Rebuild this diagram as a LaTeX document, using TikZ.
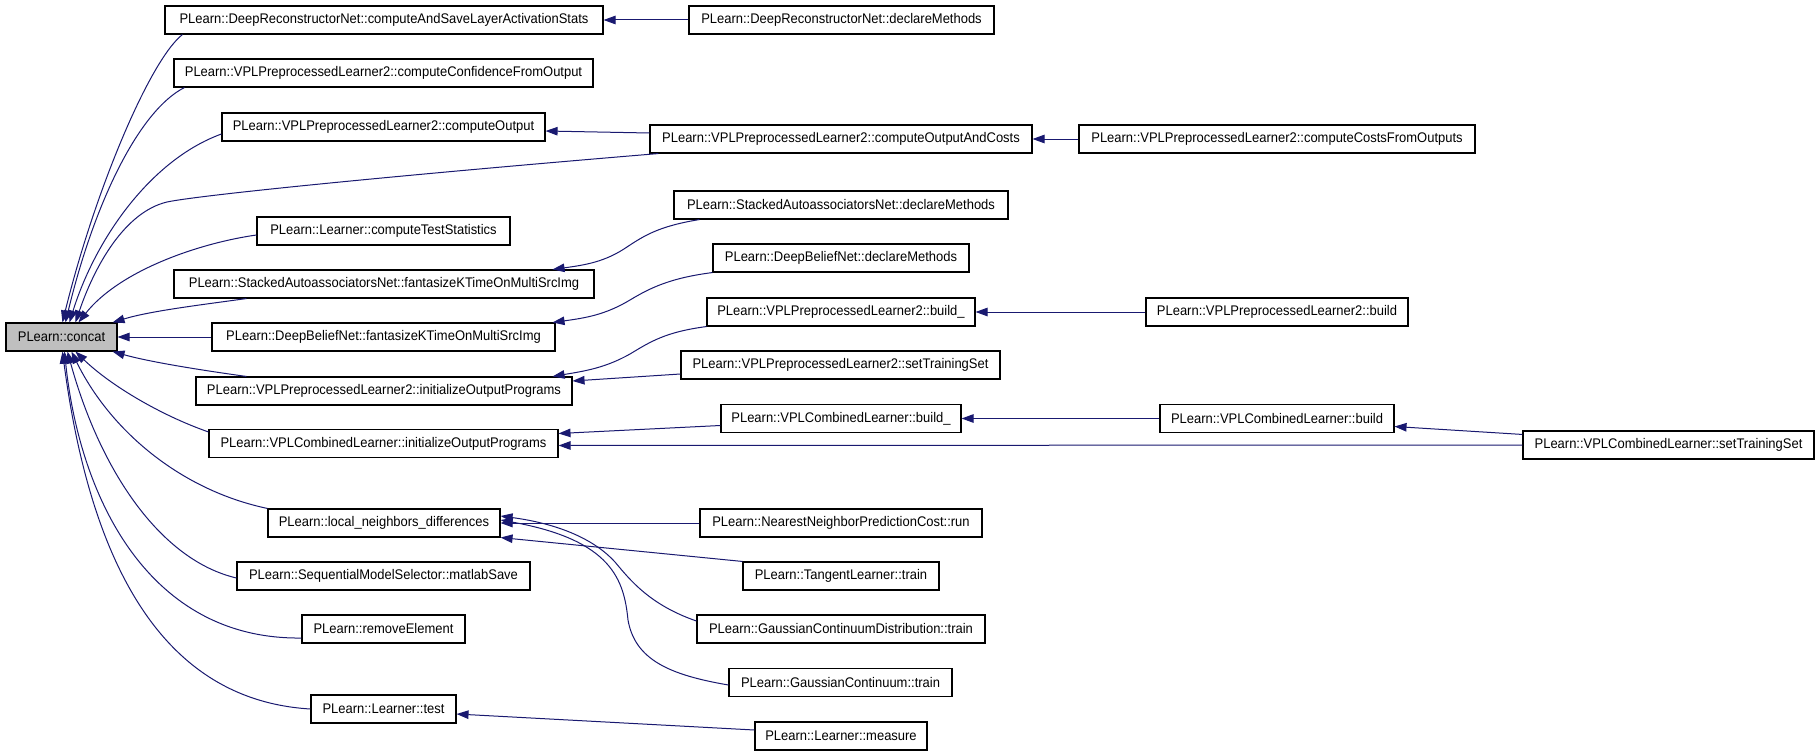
\documentclass[tikz,border=0pt]{standalone}
\usepackage{fontspec}
\setmainfont[FakeStretch=0.93]{Liberation Sans}
\usetikzlibrary{arrows.meta,calc}
\definecolor{edgec}{HTML}{191970}
\definecolor{grayfill}{HTML}{BFBFBF}
\tikzset{
  fn/.style={draw=black, line width=1.1bp, fill=white, inner sep=0pt, minimum height=28bp, font=\fontsize{14}{16}\selectfont},
  root/.style={fn, fill=grayfill},
  edge/.style={draw=edgec, line width=1bp, -{Triangle[length=12bp,width=8.5bp]}, fill=none},
}
\begin{document}
\begin{tikzpicture}[x=1bp,y=-1bp]
\useasboundingbox[fill=white] (0,0) rectangle (1819,756);
% column 0
\node[root, minimum width=111bp] (concat) at (61.5,337) {PLearn::concat};
% column 1
\node[fn, minimum width=438bp] (cASLAS) at (384,20) {PLearn::DeepReconstructorNet::computeAndSaveLayerActivationStats};
\node[fn, minimum width=419bp] (cCFO) at (383.5,73) {PLearn::VPLPreprocessedLearner2::computeConfidenceFromOutput};
\node[fn, minimum width=323bp] (cOut) at (383.5,127) {PLearn::VPLPreprocessedLearner2::computeOutput};
\node[fn, minimum width=253bp] (cTS) at (383.5,231) {PLearn::Learner::computeTestStatistics};
\node[fn, minimum width=420bp] (SAfant) at (384,284) {PLearn::StackedAutoassociatorsNet::fantasizeKTimeOnMultiSrcImg};
\node[fn, minimum width=343bp] (DBfant) at (383.5,337) {PLearn::DeepBeliefNet::fantasizeKTimeOnMultiSrcImg};
\node[fn, minimum width=376bp] (VPinit) at (384,391) {PLearn::VPLPreprocessedLearner2::initializeOutputPrograms};
\node[fn, minimum width=349bp] (VCinit) at (383.5,443.5) {PLearn::VPLCombinedLearner::initializeOutputPrograms};
\node[fn, minimum width=232bp] (lnd) at (384,523) {PLearn::local\_neighbors\_differences};
\node[fn, minimum width=293bp] (matlab) at (383.5,576) {PLearn::SequentialModelSelector::matlabSave};
\node[fn, minimum width=163bp] (remove) at (383.5,629) {PLearn::removeElement};
\node[fn, minimum width=145bp] (test) at (383.5,709) {PLearn::Learner::test};
% column 2
\node[fn, minimum width=305bp] (DRNdecl) at (841.5,20) {PLearn::DeepReconstructorNet::declareMethods};
\node[fn, minimum width=382bp] (cOAC) at (841,139) {PLearn::VPLPreprocessedLearner2::computeOutputAndCosts};
\node[fn, minimum width=334bp] (SAdecl) at (841,205) {PLearn::StackedAutoassociatorsNet::declareMethods};
\node[fn, minimum width=256bp] (DBdecl) at (841,258) {PLearn::DeepBeliefNet::declareMethods};
\node[fn, minimum width=268bp] (VPbuildu) at (841,312) {PLearn::VPLPreprocessedLearner2::build\_};
\node[fn, minimum width=319bp] (VPsetTS) at (840.5,365) {PLearn::VPLPreprocessedLearner2::setTrainingSet};
\node[fn, minimum width=240bp] (VCbuildu) at (841,418.5) {PLearn::VPLCombinedLearner::build\_};
\node[fn, minimum width=282bp] (NNrun) at (841,523) {PLearn::NearestNeighborPredictionCost::run};
\node[fn, minimum width=196bp] (tangent) at (841,576) {PLearn::TangentLearner::train};
\node[fn, minimum width=288bp] (GCD) at (841,629) {PLearn::GaussianContinuumDistribution::train};
\node[fn, minimum width=223bp] (GC) at (840.5,682.5) {PLearn::GaussianContinuum::train};
\node[fn, minimum width=172bp] (measure) at (841,736) {PLearn::Learner::measure};
% column 3
\node[fn, minimum width=396bp] (costs) at (1277,139) {PLearn::VPLPreprocessedLearner2::computeCostsFromOutputs};
\node[fn, minimum width=262bp] (VPbuild) at (1277,312) {PLearn::VPLPreprocessedLearner2::build};
\node[fn, minimum width=234bp] (VCbuild) at (1277,418.5) {PLearn::VPLCombinedLearner::build};
% column 4
\node[fn, minimum width=291bp] (VCsetTS) at (1668.5,445) {PLearn::VPLCombinedLearner::setTrainingSet};

% edges into concat
\draw[edge] ($(cASLAS.south west)+(18,0)$) .. controls (150,60) and (95,190) .. ($(concat.north west)+(57,0)$);
\draw[edge] ($(cCFO.south west)+(11,0)$) .. controls (140,110) and (95,200) .. ($(concat.north west)+(60,0)$);
\draw[edge] ($(cOut.west)+(0,7)$) .. controls (150,160) and (95,240) .. ($(concat.north west)+(64,0)$);
\draw[edge] ($(cOAC.south west)+(9,0)$) .. controls (400,175) and (200,195) .. (167,202) .. controls (125,212) and (95,265) .. ($(concat.north west)+(70,0)$);
\draw[edge] ($(cTS.west)+(0,4)$) .. controls (200,243) and (120,270) .. ($(concat.north west)+(73,0)$);
\draw[edge] ($(SAfant.south west)+(73,0)$) .. controls (200,305) and (150,311) .. ($(concat.north east)+(-5,0)$);
\draw[edge] (DBfant.west) -- (concat.east);
\draw[edge] ($(VPinit.north west)+(51,0)$) .. controls (200,370) and (150,362) .. ($(concat.south east)+(-5,0)$);
\draw[edge] ($(VCinit.north west)+(0,3)$) .. controls (160,415) and (110,385) .. ($(concat.south west)+(70,0)$);
\draw[edge] (lnd.north west) .. controls (180,490) and (110,430) .. ($(concat.south west)+(66,0)$);
\draw[edge] ($(matlab.west)+(0,2)$) .. controls (160,560) and (100,470) .. ($(concat.south west)+(62,0)$);
\draw[edge] ($(remove.west)+(0,9)$) .. controls (150,640) and (80,500) .. ($(concat.south west)+(59,0)$);
\draw[edge] (test.west) .. controls (160,700) and (90,560) .. ($(concat.south west)+(57,0)$);

% second level
\draw[edge] (DRNdecl.west) -- (cASLAS.east);
\draw[edge] ($(cOAC.west)+(0,-6)$) -- ($(cOut.east)+(0,4)$);
\draw[edge] (costs.west) -- (cOAC.east);
\draw[edge] ($(SAdecl.south west)+(26,0)$) .. controls (660,226) and (645,235) .. (627,247) .. controls (605,262) and (585,265) .. ($(SAfant.north east)+(-42,0)$);
\draw[edge] (DBdecl.south west) .. controls (670,278) and (650,288) .. (630,300) .. controls (605,315) and (585,318) .. ($(DBfant.north east)+(-3,0)$);
\draw[edge] (VPbuildu.south west) .. controls (665,332) and (650,342) .. (630,354) .. controls (605,368) and (585,371) .. ($(VPinit.north east)+(-20,0)$);
\draw[edge] ($(VPsetTS.west)+(0,9)$) -- ($(VPinit.east)+(0,-10)$);
\draw[edge] (VPbuild.west) -- (VPbuildu.east);
\draw[edge] ($(VCbuildu.west)+(0,7)$) -- ($(VCinit.east)+(0,-10)$);
\draw[edge] (VCsetTS.west) -- ($(VCinit.east)+(0,2)$);
\draw[edge] (VCbuild.west) -- (VCbuildu.east);
\draw[edge] ($(VCsetTS.north west)+(0,4)$) -- ($(VCbuild.east)+(0,8)$);
\draw[edge] (NNrun.west) -- (lnd.east);
\draw[edge] (tangent.north west) -- (lnd.south east);
\draw[edge] ($(GCD.west)+(0,-8)$) .. controls (650,605) and (630,580) .. (615,562) .. controls (595,540) and (560,524) .. ($(lnd.east)+(0,-7)$);
\draw[edge] ($(GC.west)+(0,2.5)$) .. controls (670,675) and (635,660) .. (628,620) .. controls (624,580) and (612,540) .. ($(lnd.east)+(0,-3)$);
\draw[edge] ($(measure.west)+(0,-6)$) -- ($(test.east)+(0,5)$);
\end{tikzpicture}
\end{document}
